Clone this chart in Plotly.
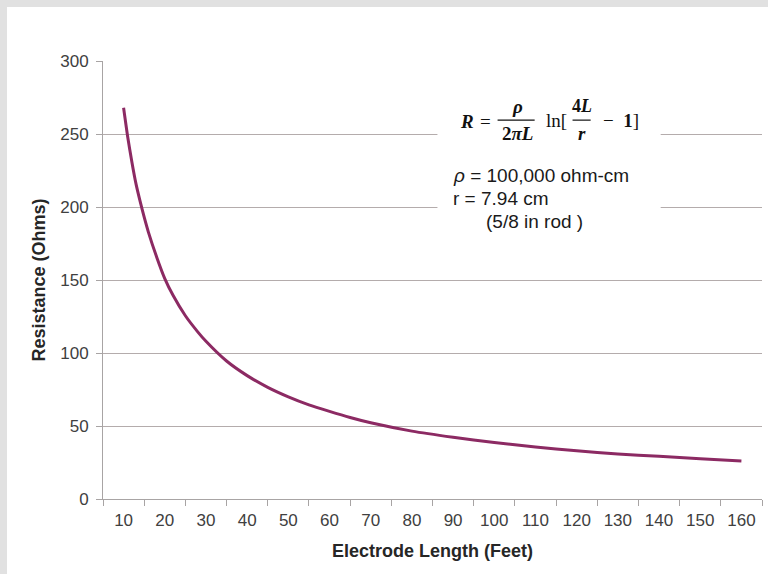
import plotly.graph_objects as go

# Data
length_ft = [10, 11, 12, 13, 14, 15, 16, 18, 20, 22, 25, 28, 30, 35, 40, 45, 50, 55, 60, 65, 70,
             80, 90, 100, 110, 120, 130, 140, 150, 160]
resistance = [268, 248, 231, 216, 204, 193, 183, 166, 151, 139.5, 125.5, 114.5, 108, 94.5, 84.5,
              76.5, 70, 64.5, 60, 55.8, 52.2, 46.5, 42.3, 38.7, 35.6, 33.0, 30.9, 29.2, 27.6, 26.1]
x_ticks = list(range(10, 161, 10))
y_ticks = [0, 50, 100, 150, 200, 250, 300]

LINE = "#8c2a63"
GRID = "#b4acac"
AX = "#a8a4a4"
TXT = "#404040"
SANS = "Liberation Sans, Arial, sans-serif"
SERIF = "Liberation Serif, Times New Roman, serif"

fig = go.Figure()
fig.add_trace(go.Scatter(x=length_ft, y=resistance, mode="lines",
                         line=dict(color=LINE, width=3, shape="spline", smoothing=0.6),
                         showlegend=False, hoverinfo="skip"))

fig.update_layout(
    width=768, height=574,
    margin=dict(l=103, r=6, t=61, b=75),
    paper_bgcolor="white", plot_bgcolor="white",
    xaxis=dict(range=[5, 165], tickvals=x_ticks, ticktext=[str(v) for v in x_ticks],
               ticks="", showgrid=False, showline=True, linecolor=AX, linewidth=1,
               tickfont=dict(family=SANS, size=17, color=TXT), zeroline=False,
               ticklabelstandoff=6,
               minor=dict(tickvals=[5 + 10 * i for i in range(17)], ticks="outside",
                          ticklen=6, tickcolor=AX, showgrid=False),
               title=dict(text="<b>Electrode Length (Feet)</b>",
                          font=dict(family=SANS, size=18, color="#262626"), standoff=14)),
    yaxis=dict(range=[0, 300], tickvals=y_ticks, ticks="outside", ticklen=6, tickcolor=AX,
               showgrid=True, gridcolor=GRID, gridwidth=1, showline=True, linecolor=AX,
               zeroline=False, tickfont=dict(family=SANS, size=17, color=TXT),
               ticklabelstandoff=4,
               title=dict(text="<b>Resistance (Ohms)</b>",
                          font=dict(family=SANS, size=18, color="#262626"), standoff=9)),
)

shapes = []
# gray frame strips (top & left)
shapes.append(dict(type="rect", xref="paper", yref="paper", x0=-103 / 659, x1=-96 / 659,
                   y0=-75 / 438, y1=1 + 61 / 438, fillcolor="#e1e1e1", line=dict(width=0)))
shapes.append(dict(type="rect", xref="paper", yref="paper", x0=-103 / 659, x1=1 + 6 / 659,
                   y0=1 + 54 / 438, y1=1 + 61 / 438, fillcolor="#e1e1e1", line=dict(width=0)))
# white box behind formula text
shapes.append(dict(type="rect", xref="x", yref="y", x0=86.2, x1=140.4, y0=180, y1=282,
                   fillcolor="white", line=dict(width=0), layer="above"))
# fraction bars
shapes.append(dict(type="line", xref="x", yref="y", x0=100.8, x1=109.8, y0=259.5, y1=259.5,
                   line=dict(color="#111", width=1.2), layer="above"))
shapes.append(dict(type="line", xref="x", yref="y", x0=119.0, x1=123.4, y0=259.5, y1=259.5,
                   line=dict(color="#111", width=1.2), layer="above"))
fig.update_layout(shapes=shapes)

def xd(px):
    return 5 + (px - 103) / 4.1125

def yd(py):
    return (499.5 - py) / 1.46

ann = []
def add(text, px, py, font, size, xanchor="center", color="#111"):
    ann.append(dict(text=text, x=xd(px), y=yd(py), xref="x", yref="y", showarrow=False,
                    xanchor=xanchor, yanchor="middle",
                    font=dict(family=font, size=size, color=color)))

add("<b><i>R</i></b>", 466, 122, SERIF, 19)
add("=", 485, 122, SERIF, 19)
add("<b><i>ρ</i></b>", 517, 107, SERIF, 19)
add("<b>2<i>πL</i></b>", 517, 134, SERIF, 19)
add("ln[", 556, 121, SERIF, 19)
add("<b>4<i>L</i></b>", 581, 106, SERIF, 18)
add("<b><i>r</i></b>", 581, 134, SERIF, 19)
add("−  <b>1</b>]", 620, 121, SERIF, 19)
add("<i>ρ</i> = 100,000 ohm-cm", 450, 176, SANS, 19, xanchor="left", color="#1a1a1a")
add("r = 7.94 cm", 450, 199, SANS, 19, xanchor="left", color="#1a1a1a")
add("(5/8 in rod )", 483, 222, SANS, 19, xanchor="left", color="#1a1a1a")
fig.update_layout(annotations=ann)

fig.write_html("out.html", config={"displayModeBar": False},
               post_script="document.body.style.margin='0';document.body.style.overflow='hidden';")
